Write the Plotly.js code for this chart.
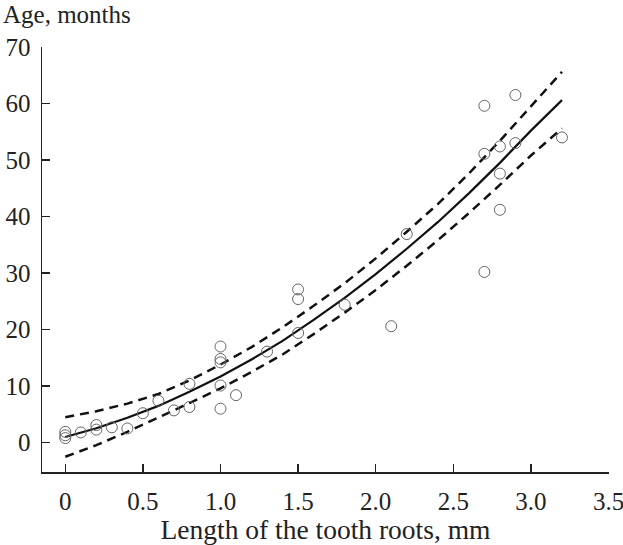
<!DOCTYPE html>
<html>
<head>
<meta charset="utf-8">
<script src="https://cdn.plot.ly/plotly-3.0.1.min.js"></script>
<style>html,body{margin:0;padding:0;background:#fff;}#chart{width:623px;height:545px;}</style>
</head>
<body>
<div id="chart"></div>
<script>
// Observed data: root length (mm) vs age (months)
const rootLength = [0,0,0,0.1,0.2,0.2,0.3,0.4,0.5,0.6,0.7,0.8,0.8,1.0,1.0,1.0,1.0,1.0,1.1,1.3,1.5,1.5,1.5,1.8,2.1,2.2,2.7,2.7,2.7,2.8,2.8,2.8,2.9,2.9,3.2];
const ageMonths  = [1.9,1.3,0.8,1.8,3.1,2.3,2.7,2.5,5.2,7.4,5.7,6.3,10.4,17.0,14.8,14.2,10.1,6.0,8.4,16.1,27.1,25.4,19.4,24.4,20.6,36.9,59.6,51.1,30.2,52.4,47.6,41.2,61.5,53.0,54.0];

// Fitted curve and confidence limits
const curveX     = [0,0.2,0.4,0.6,0.8,1.0,1.2,1.4,1.6,1.8,2.0,2.2,2.4,2.6,2.8,3.0,3.2];
const fitAge     = [1.0,2.55,4.4,6.5,9.0,11.7,14.7,18.0,21.7,25.6,29.8,34.3,39.0,44.1,49.5,55.2,60.6];
const upperAge   = [4.5,5.55,6.9,8.6,11.0,13.8,16.9,20.4,24.2,28.2,32.6,37.3,42.2,47.6,53.4,59.6,65.6];
const lowerAge   = [-2.5,-0.45,1.9,4.4,7.0,9.6,12.5,15.6,19.2,23.0,27.0,31.3,35.8,40.6,45.6,50.8,55.6];

const xTickVals  = [0,0.5,1.0,1.5,2.0,2.5,3.0,3.5];
const xTickText  = ['0','0.5','1.0','1.5','2.0','2.5','3.0','3.5'];
const yTickVals  = [0,10,20,30,40,50,60,70];

const FONT = 'Liberation Serif, Times New Roman, serif';

const traces = [
  {x: curveX, y: upperAge, mode: 'lines', line: {color: '#111', width: 2.5, dash: '9px,6px'}, hoverinfo: 'skip'},
  {x: curveX, y: lowerAge, mode: 'lines', line: {color: '#111', width: 2.5, dash: '9px,6px'}, hoverinfo: 'skip'},
  {x: curveX, y: fitAge, mode: 'lines', line: {color: '#111', width: 2.2}},
  {x: rootLength, y: ageMonths, mode: 'markers', marker: {symbol: 'circle-open', size: 11, color: '#666', line: {width: 1, color: '#666'}}}
];

const layout = {
  width: 623, height: 545,
  margin: {l: 42, r: 13.5, t: 47, b: 73},
  paper_bgcolor: '#fff', plot_bgcolor: '#fff',
  showlegend: false,
  font: {family: FONT, color: '#222', size: 25},
  xaxis: {
    range: [-0.15, 3.503], showgrid: false, zeroline: false,
    showline: true, linecolor: '#222', linewidth: 1.5,
    ticks: 'inside', ticklen: 8, tickwidth: 1.3, tickcolor: '#222',
    tickvals: xTickVals, ticktext: xTickText,
    tickfont: {family: FONT, size: 25, color: '#222'},
    ticklabelstandoff: 6, ticklabeloverflow: 'allow',
    title: {text: 'Length of the tooth roots, mm', font: {family: FONT, size: 27.5, color: '#222'}, standoff: 5}
  },
  yaxis: {
    range: [-5.2, 70], showgrid: false, zeroline: false,
    showline: true, linecolor: '#222', linewidth: 1.5,
    ticks: 'inside', ticklen: 8, tickwidth: 1.3, tickcolor: '#222',
    tickvals: yTickVals,
    tickfont: {family: FONT, size: 25, color: '#222'},
    ticklabelstandoff: 5
  },
  annotations: [{
    text: 'Age, months', xref: 'paper', yref: 'paper',
    x: -0.0725, y: 1.0776, xanchor: 'left', yanchor: 'middle', showarrow: false,
    font: {family: FONT, size: 25, color: '#222'}
  }]
};

Plotly.newPlot('chart', traces, layout, {displayModeBar: false, staticPlot: true});
</script>
</body>
</html>
